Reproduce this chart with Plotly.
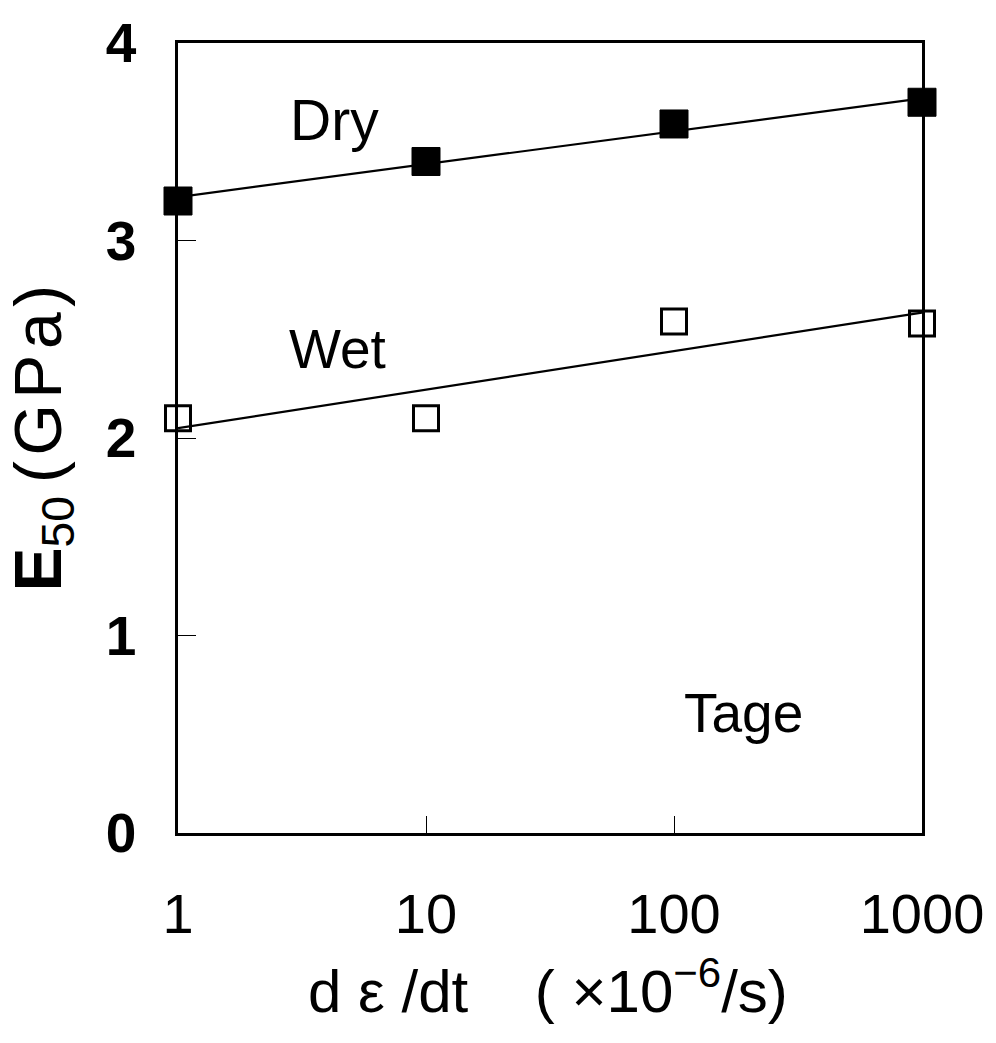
import plotly.graph_objects as go

# Data
strain_rate = [1, 10, 100, 1000]
dry_E50 = [3.20, 3.40, 3.59, 3.70]
wet_E50 = [2.10, 2.10, 2.59, 2.58]
fit_x = [1, 1000]
dry_fit = [3.22, 3.72]
wet_fit = [2.05, 2.635]
x_ticks = [1, 10, 100, 1000]
x_ticklabels = ["1", "10", "100", "1000"]
y_ticks = [0, 1, 2, 3, 4]

FONT = "Liberation Sans, Arial, sans-serif"

fig = go.Figure()
fig.add_trace(go.Scatter(x=fit_x, y=dry_fit, mode="lines",
                         line=dict(color="black", width=2.2), showlegend=False))
fig.add_trace(go.Scatter(x=fit_x, y=wet_fit, mode="lines",
                         line=dict(color="black", width=2.2), showlegend=False))
fig.add_trace(go.Scatter(x=strain_rate, y=dry_E50, mode="markers", cliponaxis=False,
                         marker=dict(symbol="square", size=28, color="black",
                                     line=dict(color="black", width=1)),
                         showlegend=False))
fig.add_trace(go.Scatter(x=strain_rate, y=wet_E50, mode="markers", cliponaxis=False,
                         marker=dict(symbol="square-open", size=25, color="black",
                                     line=dict(color="black", width=3)),
                         showlegend=False))

fig.update_layout(
    width=996, height=1043,
    margin=dict(l=178, r=65, t=35, b=210),
    plot_bgcolor="white", paper_bgcolor="white",
    font=dict(family=FONT, color="black"),
    showlegend=False,
)
fig.update_xaxes(
    type="log", range=[0, 3],
    tickvals=x_ticks, ticktext=x_ticklabels,
    ticks="inside", ticklen=17, tickwidth=1, tickcolor="black",
    showline=True, linecolor="black", linewidth=2.5, mirror=True,
    showgrid=False, zeroline=False,
    tickfont=dict(size=56, family=FONT, color="black"),
    ticklabelstandoff=30,
)
fig.update_yaxes(
    range=[0, 4],
    tickvals=y_ticks,
    ticks="inside", ticklen=18, tickwidth=1, tickcolor="black",
    showline=True, linecolor="black", linewidth=2.5, mirror=True,
    showgrid=False, zeroline=False,
    tickfont=dict(size=55, family=FONT, color="black", weight="bold"),
    ticklabelstandoff=28,
)

annots = [
    dict(x=0.63, y=3.61, text="Dry", size=57),
    dict(x=0.645, y=2.45, text="Wet", size=55),
    dict(x=2.28, y=0.61, text="Tage", size=55),
]
for a in annots:
    fig.add_annotation(x=a["x"], y=a["y"], xref="x", yref="y", text=a["text"],
                       showarrow=False, font=dict(size=a["size"], family=FONT, color="black"),
                       xanchor="center", yanchor="middle")

# Axis titles as paper annotations
T = "\u200a"
fig.add_annotation(xref="paper", yref="paper", x=-0.182, y=0.50,
                   text="<b>E</b><sub>50</sub>" + "\u2009(" + T + "G" + T + "P" + T + "a" + T + ")",
                   textangle=-90,
                   showarrow=False, xanchor="center", yanchor="middle",
                   font=dict(size=66, family=FONT, color="black"))
N = "\u00a0"
fig.add_annotation(xref="paper", yref="paper", x=0.497, y=-0.195,
                   text="d" + N + "\u03b5" + N + "/dt" + N * 4 + "(" + N + "\u00d710<sup>\u22126</sup>/s)",
                   showarrow=False, xanchor="center", yanchor="middle",
                   font=dict(size=60, family=FONT, color="black"))

fig.write_html("out.html")
